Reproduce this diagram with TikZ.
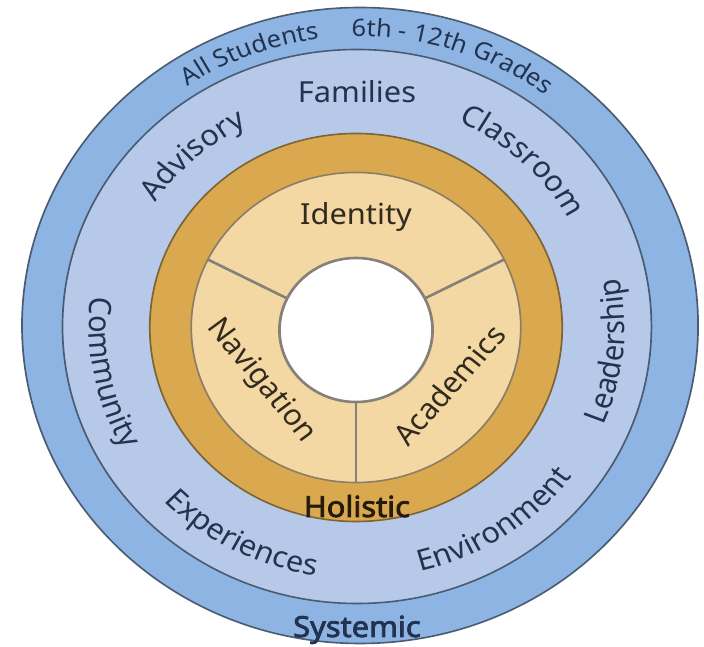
\documentclass[tikz,border=0pt]{standalone}
\usepackage{fontspec}
\setmainfont{Noto Sans}
\newfontfamily\myboldnoto{Noto Sans}[FakeBold=2.6]
\usetikzlibrary{decorations.text}
\definecolor{outerblue}{HTML}{8DB4E3}
\definecolor{innerblue}{HTML}{B6C9E8}
\definecolor{ringline}{HTML}{4A5C72}
\definecolor{orangering}{HTML}{DAA84E}
\definecolor{orangeline}{HTML}{7D6436}
\definecolor{tanring}{HTML}{F3D8A3}
\definecolor{tanline}{HTML}{8C7E66}
\definecolor{divline}{HTML}{858078}
\definecolor{navytext}{HTML}{22324F}
\definecolor{browntext}{HTML}{322A1E}
\definecolor{boldbrown}{HTML}{241A0C}
\newcommand\myringfont{\fontsize{29}{33}\selectfont}
\newcommand\myouterfont{\fontsize{24}{28}\selectfont}
% center name, radius, start angle, end angle, format, text
\newcommand\ringtextarc[6]{%
  \path[decorate, decoration={text along path, text align=center, text={|#5|#6}}]
    ([shift={(#3:#2)}]#1) arc[start angle=#3, end angle=#4, radius=#2];}
\begin{document}
\begin{tikzpicture}[x=1pt,y=1pt,
  ringbase/.style={line width=1.6pt},
  divider/.style={draw=divline, line width=2.6pt},
  blueword/.style={font=\myringfont, text=navytext, inner sep=0pt},
  innerword/.style={font=\myringfont, text=browntext, inner sep=0pt},
  boldword/.style={font=\myboldnoto\myringfont, inner sep=0pt, anchor=base}]
\fill[white] (0,0) rectangle (704,647);
\useasboundingbox (0,0) rectangle (704,647);
\begin{scope}[transform canvas={xscale=1.063}]
  \coordinate (O1) at (338.7,321.5);
  \coordinate (O2) at (335.8,320.5);
  \coordinate (O3) at (334.9,319.5);
  \coordinate (W)  at (334.9,317);
  % rings
  \path[ringbase, fill=outerblue, draw=ringline] (O1) circle[radius=318pt];
  \path[ringbase, fill=innerblue, draw=ringline] (O2) circle[radius=277pt];
  \path[ringbase, fill=orangering, draw=orangeline] (O3) circle[radius=194pt];
  \path[ringbase, fill=tanring, draw=tanline] (O3) circle[radius=155pt];
  % dividers
  \coordinate (d1a) at ([shift={(154:72pt)}]W);
  \coordinate (d1b) at ([shift={(154:155pt)}]O3);
  \coordinate (d2a) at ([shift={(26:72pt)}]W);
  \coordinate (d2b) at ([shift={(26:155pt)}]O3);
  \coordinate (d3a) at ([shift={(270:72pt)}]W);
  \coordinate (d3b) at ([shift={(270:155pt)}]O3);
  \draw[divider] (d1a) -- (d1b);
  \draw[divider] (d2a) -- (d2b);
  \draw[divider] (d3a) -- (d3b);
  \path[fill=white, draw=divline, line width=2.6pt] (W) circle[radius=72pt];
  % outer ring text
  \ringtextarc{O1}{289pt}{140.85}{80.85}{\myouterfont\color{navytext}}{All Students}
  \ringtextarc{O1}{289pt}{112.2}{32.2}{\myouterfont\color{navytext}}{6th - 12th Grades}
  % second ring text
  \node[blueword, anchor=base] (fam) at (335.8,544) {Families};
  \ringtextarc{O2}{226pt}{172.1}{92.1}{\myringfont\color{navytext}}{Advisory}
  \ringtextarc{O2}{226pt}{86.8}{6.8}{\myringfont\color{navytext}}{Classroom}
  \ringtextarc{O2}{252pt}{151.3}{231.3}{\myringfont\color{navytext}}{Community}
  \ringtextarc{O2}{252pt}{-46}{34}{\myringfont\color{navytext}}{Leadership}
  \ringtextarc{O2}{252pt}{202.5}{282.5}{\myringfont\color{navytext}}{Experiences}
  \ringtextarc{O2}{252pt}{263.6}{343.6}{\myringfont\color{navytext}}{Environment}
  % inner text
  \node[innerword, anchor=base] (ide) at (334.9,422) {Identity};
  \node[innerword, rotate=-52] (nav) at (245.5,266) {Navigation};
  \node[innerword, rotate=50] (aca) at (422.4,262) {Academics};
  \node[boldword, text=boldbrown] (hol) at (335.8,130) {Holistic};
  \node[boldword, text=navytext] (sys) at (335.8,10) {Systemic};
\end{scope}
\end{tikzpicture}
\end{document}
